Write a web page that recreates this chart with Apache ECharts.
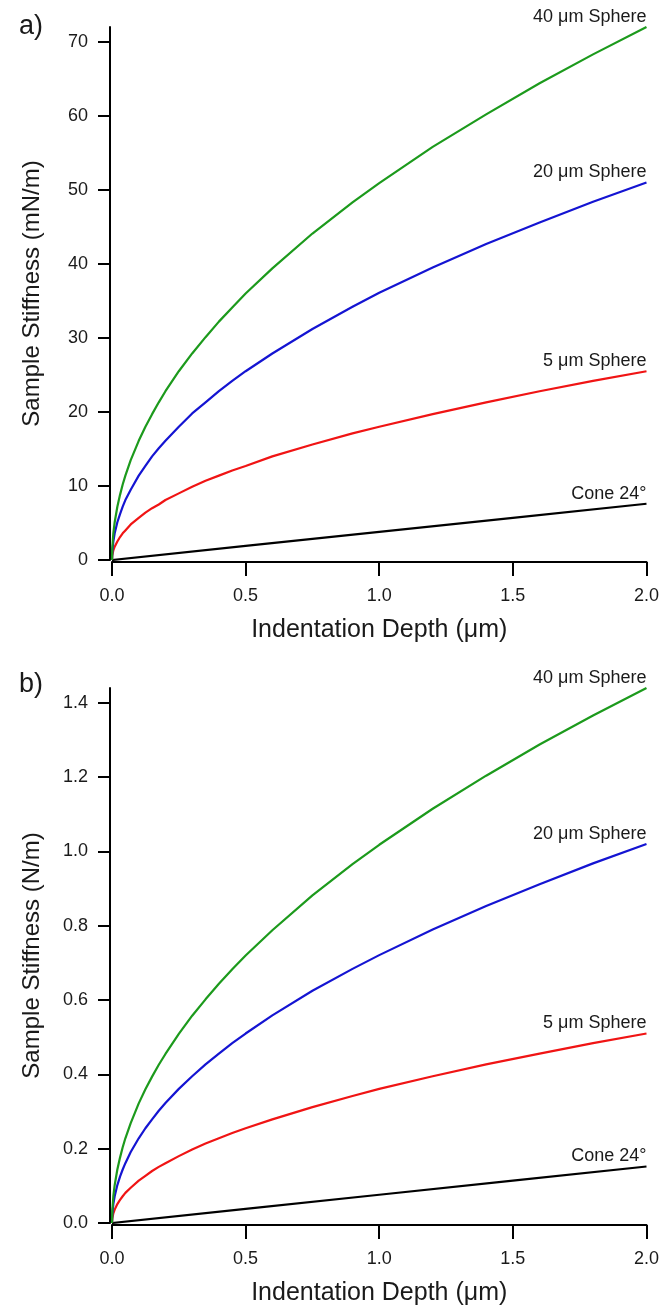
<!DOCTYPE html>
<html>
<head>
<meta charset="utf-8">
<script src="https://cdn.jsdelivr.net/npm/echarts@6/dist/echarts.min.js"></script>
<style>
  html, body { margin: 0; padding: 0; background: #fff; }
  #chart { width: 662px; height: 1311px; }
</style>
</head>
<body>
<div id="chart"></div>
<script>
// indentation depth (µm) where the sphere curves were read
const depthSphere = [0, 0.001, 0.005, 0.01, 0.02, 0.03, 0.04, 0.05, 0.07, 0.1, 0.125, 0.15, 0.175, 0.2, 0.25, 0.3, 0.35, 0.4, 0.45, 0.5, 0.6, 0.75, 0.9, 1.0, 1.2, 1.4, 1.6, 1.8, 2.0];
const depthCone = [0, 0.5, 1.0, 1.5, 2.0];

// panel a) stiffness in mN/m
const sphere40_mN = [0, 1.6, 3.6, 5.1, 7.2, 8.8, 10.2, 11.4, 13.5, 16.1, 18.0, 19.7, 21.3, 22.8, 25.5, 27.9, 30.1, 32.2, 34.1, 36.0, 39.4, 44.1, 48.3, 50.9, 55.8, 60.2, 64.4, 68.3, 72.0];
const sphere20_mN = [0, 1.1, 2.5, 3.6, 5.1, 6.2, 7.2, 8.1, 9.5, 11.4, 12.7, 14.0, 15.1, 16.1, 18.0, 19.8, 21.3, 22.8, 24.2, 25.5, 27.9, 31.2, 34.2, 36.1, 39.5, 42.7, 45.6, 48.4, 51.0];
const sphere5_mN = [0, 0.6, 1.3, 1.8, 2.5, 3.1, 3.6, 4.0, 4.8, 5.7, 6.4, 7.0, 7.5, 8.1, 9.0, 9.9, 10.7, 11.4, 12.1, 12.7, 14.0, 15.6, 17.1, 18.0, 19.7, 21.3, 22.8, 24.2, 25.5];
const cone24_mN = [0, 1.9, 3.8, 5.7, 7.6];

// panel b) stiffness in N/m
const sphere40_N = [0, 0.032, 0.072, 0.102, 0.144, 0.176, 0.204, 0.228, 0.269, 0.322, 0.360, 0.394, 0.426, 0.455, 0.509, 0.558, 0.602, 0.644, 0.683, 0.720, 0.788, 0.882, 0.966, 1.018, 1.115, 1.204, 1.288, 1.366, 1.440];
const sphere20_N = [0, 0.023, 0.051, 0.072, 0.102, 0.125, 0.144, 0.161, 0.191, 0.228, 0.255, 0.279, 0.302, 0.323, 0.361, 0.395, 0.427, 0.456, 0.484, 0.510, 0.559, 0.625, 0.684, 0.721, 0.790, 0.853, 0.912, 0.968, 1.020];
const sphere5_N = [0, 0.011, 0.026, 0.036, 0.051, 0.062, 0.072, 0.081, 0.095, 0.114, 0.127, 0.140, 0.151, 0.161, 0.180, 0.198, 0.214, 0.228, 0.242, 0.255, 0.279, 0.312, 0.342, 0.361, 0.395, 0.427, 0.456, 0.484, 0.510];
const cone24_N = [0, 0.038, 0.076, 0.114, 0.152];

const curveNames = ['40 μm Sphere', '20 μm Sphere', '5 μm Sphere', 'Cone 24°'];
const curveColors = ['#1c9a1c', '#1414d2', '#f01414', '#000000'];

const yTicksA = [0, 10, 20, 30, 40, 50, 60, 70];
const yTicksB = [0, 0.2, 0.4, 0.6, 0.8, 1.0, 1.2, 1.4];

const FONT = '"Liberation Sans", Arial, sans-serif';
const TXT = '#1a1a1a';

function pairs(xs, ys, name) {
  return ys.map((y, i) => {
    const item = { value: [xs[i], y] };
    // only the last point of each curve carries its name
    if (i === ys.length - 1) {
      item.label = { show: true, formatter: name };
    }
    return item;
  });
}

function makeSeries(idx, sets) {
  return sets.map((s, k) => ({
    type: 'line',
    xAxisIndex: idx,
    yAxisIndex: idx,
    data: pairs(s.x, s.y, curveNames[k]),
    smooth: false,
    showSymbol: true,
    symbol: 'circle',
    symbolSize: 0,
    silent: true,
    animation: false,
    lineStyle: { color: curveColors[k], width: 2.2, join: 'round' },
    itemStyle: { color: curveColors[k] },
    label: {
      show: false,
      position: 'top',
      align: 'right',
      distance: 1,
      color: TXT,
      fontFamily: FONT,
      fontSize: 18,
    },
    z: 10 - k,
  }));
}

function xAx(grid) {
  return {
    gridIndex: grid,
    type: 'value',
    min: 0,
    max: 2,
    interval: 0.5,
    offset: 2,
    name: 'Indentation Depth (μm)',
    nameLocation: 'middle',
    nameGap: 56,
    nameTextStyle: { color: TXT, fontFamily: FONT, fontSize: 25 },
    axisLine: { show: true, onZero: false, lineStyle: { color: '#000', width: 2 } },
    axisTick: { show: true, length: 14, lineStyle: { color: '#000', width: 2 } },
    axisLabel: { color: TXT, fontFamily: FONT, fontSize: 18, margin: 25, formatter: (v) => v.toFixed(1) },
    splitLine: { show: false },
  };
}

function yAx(grid, max, ticks, name, digits) {
  return {
    gridIndex: grid,
    type: 'value',
    min: 0,
    max: max,
    offset: 2,
    name: name,
    nameLocation: 'middle',
    nameGap: 66,
    nameTextStyle: { color: TXT, fontFamily: FONT, fontSize: 24 },
    axisLine: { show: true, onZero: false, lineStyle: { color: '#000', width: 2 } },
    axisTick: { show: true, length: 12, customValues: ticks, lineStyle: { color: '#000', width: 2 } },
    axisLabel: {
      color: TXT, fontFamily: FONT, fontSize: 18, margin: 22,
      customValues: ticks,
      formatter: (v) => v.toFixed(digits),
    },
    splitLine: { show: false },
  };
}

const chart = echarts.init(document.getElementById('chart'), null, { renderer: 'canvas' });

chart.setOption({
  backgroundColor: '#ffffff',
  animation: false,
  title: [
    { text: 'a)', left: 14, top: 8, textStyle: { color: TXT, fontFamily: FONT, fontSize: 27, fontWeight: 'normal' } },
    { text: 'b)', left: 14, top: 666, textStyle: { color: TXT, fontFamily: FONT, fontSize: 27, fontWeight: 'normal' } },
  ],
  grid: [
    { left: 112, right: 13, top: 27, height: 533 },
    { left: 112, right: 13, top: 688, height: 535 },
  ],
  xAxis: [xAx(0), xAx(1)],
  yAxis: [
    yAx(0, 72, yTicksA, 'Sample Stiffness (mN/m)', 0),
    yAx(1, 1.44, yTicksB, 'Sample Stiffness (N/m)', 1),
  ],
  series: [
    ...makeSeries(0, [
      { x: depthSphere, y: sphere40_mN },
      { x: depthSphere, y: sphere20_mN },
      { x: depthSphere, y: sphere5_mN },
      { x: depthCone, y: cone24_mN },
    ]),
    ...makeSeries(1, [
      { x: depthSphere, y: sphere40_N },
      { x: depthSphere, y: sphere20_N },
      { x: depthSphere, y: sphere5_N },
      { x: depthCone, y: cone24_N },
    ]),
  ],
});
</script>
</body>
</html>
